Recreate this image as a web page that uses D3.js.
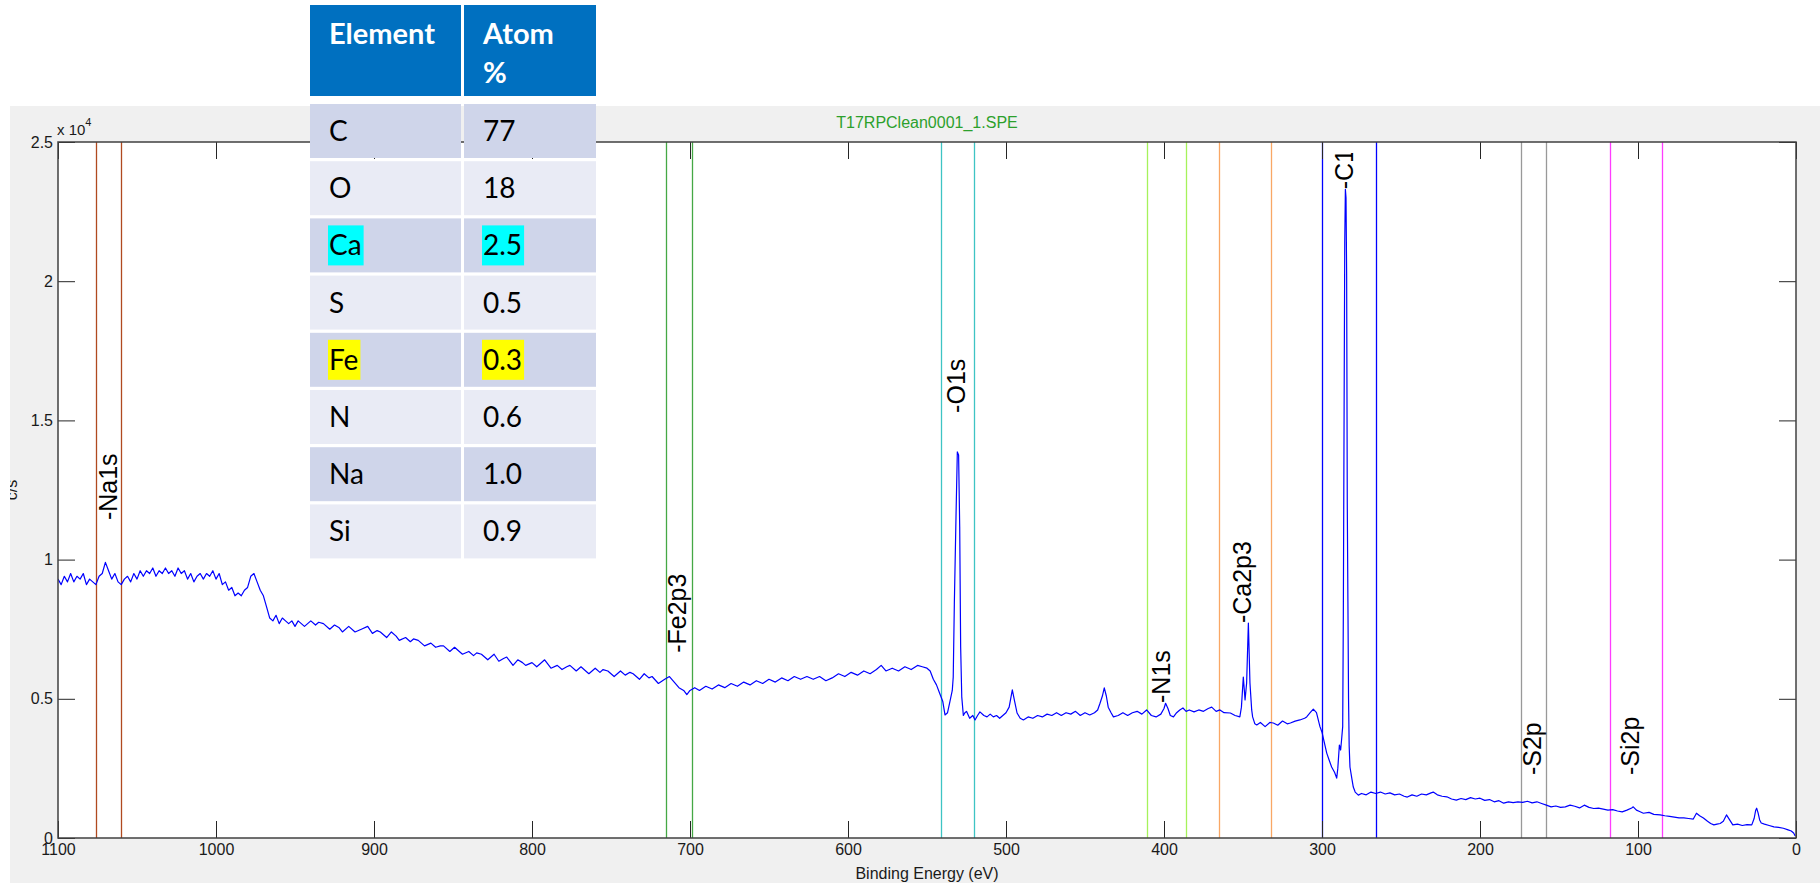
<!DOCTYPE html>
<html>
<head>
<meta charset="utf-8">
<script src="https://cdnjs.cloudflare.com/ajax/libs/d3/7.8.5/d3.min.js"></script>
<style>
body { margin: 0; background: #fff; }
svg { display: block; }
</style>
</head>
<body>
<div id="chart-area"></div>
<script>
// Survey spectrum: [binding energy (eV), counts/s x 10^4]
var spectrum = [
 [1100,0.93],[1098,0.91],[1096,0.94],[1094,0.92],[1092,0.95],[1090,0.92],[1088,0.94],[1086,0.93],[1084,0.95],[1082,0.91],
 [1080,0.93],[1078,0.92],[1076,0.91],[1074,0.94],[1072,0.95],[1070,0.99],[1068,0.96],[1066,0.93],[1064,0.95],[1062,0.92],
 [1060,0.91],[1058,0.93],[1056,0.94],[1054,0.92],[1052,0.95],[1050,0.93],[1048,0.96],[1046,0.94],[1044,0.96],[1042,0.95],
 [1040,0.97],[1038,0.94],[1036,0.96],[1034,0.95],[1032,0.97],[1030,0.95],[1028,0.96],[1026,0.94],[1024,0.97],[1022,0.95],
 [1020,0.96],[1018,0.93],[1016,0.95],[1014,0.92],[1012,0.94],[1010,0.95],[1008,0.93],[1006,0.95],[1004,0.94],[1002,0.96],
 [1000,0.93],[998,0.95],[996,0.91],[994,0.92],[992,0.89],[990,0.90],[988,0.87],[986,0.88],[984,0.87],[982,0.89],
 [980,0.90],[978,0.94],[976,0.95],[974,0.92],[972,0.89],[970,0.87],[968,0.83],[966,0.79],[964,0.78],[962,0.80],
 [960,0.77],[958,0.79],[956,0.78],[954,0.77],[952,0.78],[950,0.76],[948,0.78],[946,0.77],[944,0.76],
 [940,0.78],[937,0.765],[935,0.775],[932,0.77],[928,0.75],[925,0.765],[922,0.755],[920,0.74],[916,0.76],[912,0.74],[908,0.75],[904,0.76],
 [901,0.735],[898,0.745],[896,0.74],[892,0.72],[889,0.74],[886,0.725],[884,0.71],[880,0.72],[877,0.705],[875,0.715],[872,0.71],[868,0.69],[864,0.70],
 [861,0.685],[858,0.69],[856,0.69],[852,0.67],[849,0.685],[846,0.67],[844,0.66],[840,0.67],[837,0.655],[835,0.665],[832,0.66],[828,0.64],[824,0.66],
 [821,0.635],[818,0.645],[816,0.65],[812,0.62],[809,0.64],[806,0.63],[804,0.62],[800,0.63],[797,0.615],[795,0.625],[792,0.64],[788,0.61],[784,0.62],
 [781,0.605],[778,0.615],[776,0.62],[772,0.60],[769,0.615],[766,0.6],[764,0.59],[760,0.61],[757,0.595],[755,0.605],[752,0.60],[748,0.58],[744,0.60],
 [741,0.585],[738,0.595],[736,0.59],[732,0.57],[729,0.59],[726,0.575],[724,0.58],[720,0.555],[716,0.57],[713,0.58],[710,0.56],[707,0.54],
 [704,0.53],[702,0.515],[700,0.53],[697,0.54],[694,0.53],[690,0.545],[686,0.535],[682,0.55],[678,0.54],[674,0.555],
 [670,0.545],[666,0.56],[662,0.55],[658,0.565],[654,0.555],[650,0.57],[646,0.56],[642,0.575],[638,0.565],[634,0.58],
 [630,0.57],[626,0.58],[622,0.57],[618,0.58],[614,0.565],[610,0.575],[606,0.59],[602,0.58],[598,0.595],[594,0.585],
 [590,0.60],[586,0.59],[582,0.605],[579,0.62],[576,0.60],[572,0.61],[568,0.60],[564,0.615],[560,0.605],[556,0.62],
 [553,0.615],[550,0.61],[548,0.60],[546,0.57],[544,0.55],[542,0.52],[540,0.49],[538.6,0.442],[537,0.45],[535.5,0.49],
 [534,0.53],[533.4,0.578],[532.7,0.84],[531.6,1.167],[530.8,1.387],[530,1.376],[529.3,1.117],[528.7,0.686],[528,0.507],[527,0.44],
 [526,0.45],[525,0.455],[523,0.43],[521,0.44],[519.6,0.424],[518,0.44],[516.5,0.453],[514,0.44],[512,0.435],[510,0.445],
 [508,0.435],[506,0.44],[504,0.43],[502,0.44],[500,0.45],[498,0.47],[496,0.532],[494.5,0.49],[493,0.449],[491,0.43],
 [489,0.424],[486,0.435],[483,0.43],[480,0.44],[477,0.435],[474,0.445],[471,0.44],[468,0.45],[465,0.44],[462,0.45],
 [459,0.445],[456,0.455],[453,0.44],[450,0.45],[447,0.442],[444,0.45],[442,0.46],[440.5,0.484],[439,0.51],[437.8,0.539],
 [436.5,0.51],[435.3,0.47],[433.5,0.45],[432,0.435],[429,0.44],[426,0.45],[423,0.44],[420,0.45],[417,0.455],[414,0.445],
 [411,0.46],[408,0.44],[405,0.435],[402,0.445],[400,0.465],[399,0.484],[397.5,0.465],[396,0.44],[394,0.435],[392,0.45],
 [390,0.46],[388,0.467],[386,0.455],[384,0.46],[381,0.453],[378,0.46],[375,0.455],[372,0.465],[369.8,0.47],[367,0.455],
 [364.6,0.46],[362,0.45],[358,0.449],[355,0.44],[352,0.435],[351,0.47],[349.8,0.578],[348.7,0.496],[347.7,0.557],[346.6,0.772],
 [345.6,0.557],[344.5,0.46],[343.9,0.435],[342.5,0.41],[341.3,0.406],[339,0.415],[336,0.40],[333,0.415],[330.8,0.413],[328,0.405],
 [325,0.42],[322,0.41],[320,0.413],[317,0.42],[314,0.424],[311,0.43],[309.7,0.435],[307.5,0.45],[305.5,0.463],[303.5,0.45],
 [301.3,0.40],[300,0.38],[299.2,0.36],[297,0.305],[295.5,0.28],[293.9,0.255],[292,0.235],[290.7,0.215],[290,0.25],[289,0.334],
 [288.2,0.316],[287.5,0.36],[286.9,0.40],[286.5,0.8],[286,1.55],[285.6,2.14],[285.2,2.33],[284.8,2.3],[284.4,2.02],[284,1.2],
 [283.6,0.85],[283.2,0.5],[282.8,0.33],[282.3,0.255],[281,0.21],[280.2,0.183],[279,0.165],[277,0.154],[275,0.16],[272,0.155],
 [269,0.165],[266,0.16],[263,0.165],[260,0.158],[257,0.162],[254,0.155],[251,0.158],[248,0.15],[246,0.147],[243,0.155],
 [240,0.15],[237,0.158],[234,0.155],[231,0.162],[229.6,0.165],[227,0.155],[224,0.15],[221,0.148],[218,0.14],[215,0.136],
 [212,0.142],[209,0.138],[206,0.145],[203,0.14],[200,0.143],[197,0.135],[194,0.138],[191,0.13],[188,0.134],[185,0.125],
 [182,0.13],[179,0.127],[176,0.13],[173,0.128],[170,0.132],[167,0.126],[164,0.13],[161,0.124],[158,0.118],[155,0.112],
 [152,0.115],[149,0.11],[146,0.112],[143,0.118],[140,0.114],[137,0.108],[134,0.118],[131,0.11],[128,0.106],[125,0.107],
 [122,0.104],[119,0.1],[116,0.102],[113,0.097],[110,0.094],[107,0.1],[104,0.108],[103,0.112],[101,0.1],[99,0.095],
 [96.6,0.089],[93,0.092],[90,0.085],[86,0.083],[83,0.08],[80,0.078],[77,0.075],[74,0.072],[71,0.072],[68,0.07],
 [65,0.068],[63,0.089],[61,0.08],[58.6,0.072],[56,0.06],[54,0.052],[52,0.047],[50,0.05],[48,0.052],[46,0.06],
 [44,0.083],[42,0.065],[40,0.047],[37,0.05],[34,0.045],[31,0.048],[28,0.047],[26.5,0.07],[25.5,0.1],[24.9,0.107],
 [24,0.09],[23,0.065],[22,0.054],[20,0.05],[17,0.045],[14,0.04],[11,0.038],[8,0.035],[5,0.029],[3,0.025],
 [1.5,0.018],[0.5,0.007]
];

// Peak regions (eV) and their labels
var regionNames = ["Na1s", "Fe2p3", "O1s", "N1s", "Ca2p3", "C1s", "S2p", "Si2p"];
var regionHigh  = [1076, 715, 541, 411, 365, 300, 174, 118];
var regionLow   = [1060, 699, 520, 386, 332, 266, 158, 85];
var labelEnergy = [1068.4, 708, 531.6, 402, 350.8, 286, 166.8, 105];
var labelCounts = [1.142, 0.665, 1.527, 0.485, 0.772, 2.33, 0.226, 0.226];
var regionColor = {
	"Na1s": "#b04a20", "Fe2p3": "#45a845", "O1s": "#3ec4c4", "N1s": "#a6f25a",
	"Ca2p3": "#f9a765", "C1s": "#0000ff", "S2p": "#999999", "Si2p": "#ff3cff"
};

// Tick labels
var xTickValues = [1100, 1000, 900, 800, 700, 600, 500, 400, 300, 200, 100, 0];
var yTickValues = [0, 0.5, 1, 1.5, 2, 2.5];

// Composition table
var tableHeader = ["Element", "Atom %"];
var tableElements = ["C", "O", "Ca", "S", "Fe", "N", "Na", "Si"];
var tableAtomPct = ["77", "18", "2.5", "0.5", "0.3", "0.6", "1.0", "0.9"];
var highlightColor = { "Ca": "#00ffff", "Fe": "#ffff00" };

var W = 1820, H = 883;
var margin = { top: 142, left: 58 };
var width = 1738, height = 696;
var fontM = "'Liberation Sans', Arial, sans-serif";

var svg = d3.select("#chart-area")
	.append("svg")
		.attr("width", W)
		.attr("height", H);

// figure background
svg.append("rect")
	.attr("x", 10).attr("y", 106)
	.attr("width", W - 10).attr("height", H - 106)
	.attr("fill", "#f0f0f0");

var defs = svg.append("defs");
defs.append("clipPath").attr("id", "plotclip")
	.append("rect").attr("width", width).attr("height", height);
// labels are dropped once they run near the top of the axes
defs.append("clipPath").attr("id", "labelclip")
	.append("rect").attr("y", 11).attr("width", width).attr("height", height - 11);
defs.append("clipPath").attr("id", "figclip")
	.append("rect").attr("x", 10).attr("y", 106).attr("width", W - 10).attr("height", H - 106);

var g = svg.append("g")
	.attr("transform", `translate(${margin.left},${margin.top})`);

g.append("rect")
	.attr("width", width).attr("height", height)
	.attr("fill", "#fff");

var x = d3.scaleLinear().domain([1100, 0]).range([0, width]);
var y = d3.scaleLinear().domain([0, 2.5]).range([height, 0]);

// region boundary lines
var regions = regionNames.map((n, i) => ({ name: n, hi: regionHigh[i], lo: regionLow[i] }));
var lines = [];
regions.forEach((r) => { lines.push({ e: r.hi, c: regionColor[r.name] }); lines.push({ e: r.lo, c: regionColor[r.name] }); });

g.selectAll(".rline")
	.data(lines)
	.enter()
	.append("line")
		.attr("class", "rline")
		.attr("x1", (d) => Math.round(x(d.e)) + 0.5)
		.attr("x2", (d) => Math.round(x(d.e)) + 0.5)
		.attr("y1", 0)
		.attr("y2", height)
		.attr("stroke", (d) => d.c)
		.attr("stroke-width", 1.3);

// axes: ticks pointing inward on all four sides
function styleAxis(sel) {
	sel.select(".domain").remove();
	sel.selectAll(".tick line").attr("stroke", "#262626");
	sel.selectAll("text")
		.attr("font-family", fontM)
		.attr("font-size", 16)
		.attr("fill", "#1a1a1a");
}

g.append("g")
	.attr("transform", `translate(0,${height})`)
	.call(d3.axisBottom(x).tickValues(xTickValues).tickSizeInner(-17).tickSizeOuter(0).tickPadding(6)
		.tickFormat(d3.format("d")))
	.call(styleAxis);

g.append("g")
	.call(d3.axisTop(x).tickValues(xTickValues).tickSizeInner(-17).tickSizeOuter(0).tickFormat(""))
	.call(styleAxis);

g.append("g")
	.call(d3.axisLeft(y).tickValues(yTickValues).tickSizeInner(-17).tickSizeOuter(0).tickPadding(5)
		.tickFormat((d) => String(d)))
	.call(styleAxis);

g.append("g")
	.attr("transform", `translate(${width},0)`)
	.call(d3.axisRight(y).tickValues(yTickValues).tickSizeInner(-17).tickSizeOuter(0).tickFormat(""))
	.call(styleAxis);

// spectrum
var line = d3.line()
	.x((d) => x(d[0]))
	.y((d) => y(d[1]));

g.append("path")
	.datum(spectrum)
	.attr("clip-path", "url(#plotclip)")
	.attr("d", line)
	.attr("fill", "none")
	.attr("stroke", "#0000ff")
	.attr("stroke-width", 1.2)
	.attr("stroke-linejoin", "round");

// peak labels
var labels = g.append("g").attr("clip-path", "url(#labelclip)");
labels.selectAll("text")
	.data(regionNames)
	.enter()
	.append("text")
		.attr("transform", (d, i) => `translate(${x(labelEnergy[i])},${y(labelCounts[i])}) rotate(-90)`)
		.attr("dy", "0.36em")
		.attr("font-family", fontM)
		.attr("font-size", 25)
		.attr("fill", "#000")
		.text((d) => "-" + d);

// axes box
g.append("rect")
	.attr("width", width).attr("height", height)
	.attr("fill", "none")
	.attr("stroke", "#404040")
	.attr("stroke-width", 1.5);

// title, exponent and axis labels
svg.append("text")
	.attr("x", margin.left + width / 2)
	.attr("y", 128)
	.attr("text-anchor", "middle")
	.attr("font-family", fontM)
	.attr("font-size", 16)
	.attr("fill", "#2ca02c")
	.text("T17RPClean0001_1.SPE");

var expo = svg.append("text")
	.attr("x", 57)
	.attr("y", 135)
	.attr("font-family", fontM)
	.attr("font-size", 15)
	.attr("fill", "#1a1a1a");
expo.append("tspan").text("x 10");
expo.append("tspan").attr("dy", -9).attr("font-size", 11).text("4");

svg.append("text")
	.attr("x", margin.left + width / 2)
	.attr("y", 879)
	.attr("text-anchor", "middle")
	.attr("font-family", fontM)
	.attr("font-size", 16)
	.attr("fill", "#1a1a1a")
	.text("Binding Energy (eV)");

svg.append("g").attr("clip-path", "url(#figclip)")
	.append("text")
		.attr("transform", `translate(17,${margin.top + height / 2}) rotate(-90)`)
		.attr("text-anchor", "middle")
		.attr("font-family", fontM)
		.attr("font-size", 16)
		.attr("fill", "#1a1a1a")
		.text("c/s");

// composition table on top
var tableLeft = 310, colW = [151, 132], gap = 3;
var colX = [tableLeft, tableLeft + colW[0] + gap];
var headTop = 5, headH = 91, bodyTop = 104, rowPitch = 57.2, rowH = 54;
var fontT = "Lato, 'Open Sans', sans-serif";
var tbl = svg.append("g");

tableHeader.forEach((h, c) => {
	tbl.append("rect")
		.attr("x", colX[c]).attr("y", headTop)
		.attr("width", colW[c]).attr("height", headH)
		.attr("fill", "#0070c0");
	var t = tbl.append("text")
		.attr("font-family", fontT)
		.attr("font-weight", "bold")
		.attr("font-size", 29)
		.attr("fill", "#fff");
	h.split(" ").forEach((w, k) => {
		t.append("tspan").attr("x", colX[c] + 19).attr("y", 44 + k * 39).text(w);
	});
});

tableElements.forEach((el, r) => {
	var top = bodyTop + r * rowPitch;
	var cells = [el, tableAtomPct[r]];
	cells.forEach((v, c) => {
		tbl.append("rect")
			.attr("x", colX[c]).attr("y", top)
			.attr("width", colW[c]).attr("height", rowH)
			.attr("fill", r % 2 === 0 ? "#cfd5ea" : "#e9ebf5");
		var hl = highlightColor[el] ? tbl.append("rect") : null;
		var t = tbl.append("text")
			.attr("x", colX[c] + 19)
			.attr("y", top + rowH / 2 + 10)
			.attr("font-family", fontT)
			.attr("font-size", 28)
			.attr("fill", "#000")
			.text(v);
		if (hl) {
			var bb = t.node().getBBox();
			hl.attr("x", bb.x - 1).attr("y", top + rowH / 2 - 20)
				.attr("width", bb.width + 3).attr("height", 40)
				.attr("fill", highlightColor[el]);
		}
	});
});
</script>
</body>
</html>
